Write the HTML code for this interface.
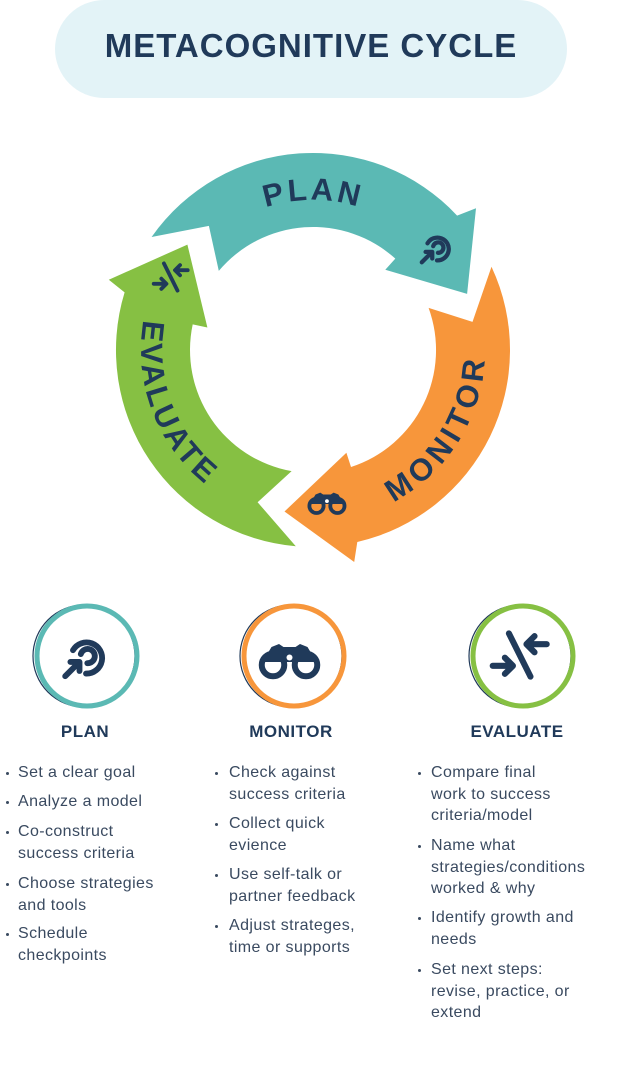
<!DOCTYPE html>
<html><head><meta charset="utf-8">
<style>
html,body{margin:0;padding:0;background:#fff;}
body{width:622px;height:1068px;position:relative;overflow:hidden;font-family:"Liberation Sans",sans-serif;}
.pill{position:absolute;left:55px;top:0;width:512px;height:98px;border-radius:49px;background:#e3f3f7;}
.title{position:absolute;left:0;width:622px;top:27px;text-align:center;font-weight:bold;font-size:33px;color:#203a5a;letter-spacing:1px;}
.h{position:absolute;top:722px;font-weight:bold;font-size:17px;color:#203a5a;text-align:center;width:160px;letter-spacing:0.5px;}
.l{position:absolute;font-size:16px;line-height:22px;height:22px;color:#3a4a60;white-space:nowrap;letter-spacing:0.4px;}
.b{position:absolute;width:3px;height:3px;border-radius:50%;background:#3a4a60;}
svg{position:absolute;left:0;top:0;}
</style></head><body>
<div class="pill"></div>
<div class="title">METACOGNITIVE CYCLE</div>

<svg width="622" height="1068" viewBox="0 0 622 1068">
<defs>
 <g id="target">
  <path d="M10 14 A12 12 0 1 1 20 32" fill="none" stroke="#203a5a" stroke-width="4.5" stroke-linecap="round"/>
  <path d="M16 17 A5.5 5.5 0 1 1 21 24" fill="none" stroke="#203a5a" stroke-width="4.5" stroke-linecap="round"/>
  <path d="M4 34 L14 24 M8 23 L15 23 L15 30" fill="none" stroke="#203a5a" stroke-width="4.5" stroke-linecap="round" stroke-linejoin="round"/>
 </g>
 <g id="bino">
  <circle cx="10" cy="22" r="7.5" fill="none" stroke="#203a5a" stroke-width="4"/>
  <circle cx="32" cy="22" r="7.5" fill="none" stroke="#203a5a" stroke-width="4"/>
  <path d="M3 20 L9 10 L14 8 L17 10 L25 10 L28 8 L33 10 L39 20 Z" fill="#203a5a"/>
  <circle cx="21" cy="17" r="2" fill="#fff"/>
 </g>
 <g id="evalic">
  <path d="M14 4 L30 36" stroke="#203a5a" stroke-width="4.5" stroke-linecap="round"/>
  <path d="M2 28 L16 28 M11 22 L17 28 L11 34" fill="none" stroke="#203a5a" stroke-width="4.5" stroke-linecap="round" stroke-linejoin="round"/>
  <path d="M42 12 L28 12 M33 6 L27 12 L33 18" fill="none" stroke="#203a5a" stroke-width="4.5" stroke-linecap="round" stroke-linejoin="round"/>
 </g>
 <path id="tpPlan" d=""/>
 <path id="tpMon" d=""/>
 <path id="tpEval" d=""/>
</defs>
<path id="a0" fill="#5bb9b4"/>
<path id="a1" fill="#f7963b"/>
<path id="a2" fill="#86c043"/>
<text font-family="Liberation Sans, sans-serif" font-weight="bold" font-size="31" fill="#203a5a" letter-spacing="3"><textPath href="#tpPlan" startOffset="50%" text-anchor="middle">PLAN</textPath></text>
<text font-family="Liberation Sans, sans-serif" font-weight="bold" font-size="31" fill="#203a5a" letter-spacing="5"><textPath href="#tpMon" startOffset="50%" text-anchor="middle">MONITOR</textPath></text>
<text font-family="Liberation Sans, sans-serif" font-weight="bold" font-size="31" fill="#203a5a" letter-spacing="3"><textPath href="#tpEval" startOffset="50%" text-anchor="middle">EVALUATE</textPath></text>

<use href="#target" transform="translate(418,230) scale(0.95)"/>
<use href="#bino" transform="translate(307,485) scale(0.95)"/>
<use href="#evalic" transform="translate(152,260) scale(0.85)"/>

<g>
 <circle cx="84" cy="656" r="51" fill="none" stroke="#203a5a" stroke-width="1.2"/>
 <circle cx="87" cy="656" r="50" fill="none" stroke="#5bb9b4" stroke-width="5"/>
 <use href="#target" transform="translate(60,632) scale(1.3)"/>
 <circle cx="291" cy="656" r="51" fill="none" stroke="#203a5a" stroke-width="1.2"/>
 <circle cx="294" cy="656" r="50" fill="none" stroke="#f7963b" stroke-width="5"/>
 <use href="#bino" transform="translate(258,632) scale(1.5)"/>
 <circle cx="520" cy="656" r="51" fill="none" stroke="#203a5a" stroke-width="1.2"/>
 <circle cx="523" cy="656" r="50" fill="none" stroke="#86c043" stroke-width="5"/>
 <use href="#evalic" transform="translate(490,628) scale(1.35)"/>
</g>
</svg>

<div class="h" style="left:5px">PLAN</div>
<div class="h" style="left:211px">MONITOR</div>
<div class="h" style="left:437px">EVALUATE</div>

<div id="lists"></div>

<script>
var cx=313, cy=350, R=197, r=123;
function P(rad,deg){var t=deg*Math.PI/180;return (cx+rad*Math.sin(t)).toFixed(1)+" "+(cy-rad*Math.cos(t)).toFixed(1);}
function arrow(o){
 return "M"+P(R,-55+o)+" A"+R+" "+R+" 0 0 1 "+P(R,47+o)+
 " L"+P(216,49+o)+" L"+P(164,70+o)+" L"+P(108,42+o)+" L"+P(r,42+o)+
 " A"+r+" "+r+" 0 0 0 "+P(r,-50+o)+" L"+P(162,-40+o)+" Z";
}
for(var i=0;i<3;i++) document.getElementById("a"+i).setAttribute("d",arrow(i*120));
document.getElementById("tpPlan").setAttribute("d","M"+P(150,-70)+" A150 150 0 0 1 "+P(150,70));
document.getElementById("tpMon").setAttribute("d","M"+P(172,192)+" A172 172 0 0 0 "+P(172,52));
document.getElementById("tpEval").setAttribute("d","M"+P(172,319)+" A172 172 0 0 0 "+P(172,179));

var cols=[
 {bx:6,tx:18,items:[[773,["Set a clear goal"]],[802,["Analyze a model"]],[832,["Co-construct","success criteria"]],[884,["Choose strategies","and tools"]],[934,["Schedule","checkpoints"]]]},
 {bx:215,tx:229,items:[[773,["Check against","success criteria"]],[824,["Collect quick","evience"]],[875,["Use self-talk or","partner feedback"]],[926,["Adjust strateges,","time or supports"]]]},
 {bx:418,tx:431,items:[[773,["Compare final","work to success","criteria/model"]],[846,["Name what","strategies/conditions","worked & why"]],[918,["Identify growth and","needs"]],[970,["Set next steps:","revise, practice, or","extend"]]]}
];
var h="";
cols.forEach(function(c){c.items.forEach(function(it){
 h+='<div class="b" style="left:'+c.bx+'px;top:'+(it[0]-1)+'px"></div>';
 it[1].forEach(function(s,j){h+='<div class="l" style="left:'+c.tx+'px;top:'+(it[0]-11+j*21.5)+'px">'+s.replace("&","&amp;")+'</div>';});
});});
document.getElementById("lists").innerHTML=h;
</script>
</body></html>
